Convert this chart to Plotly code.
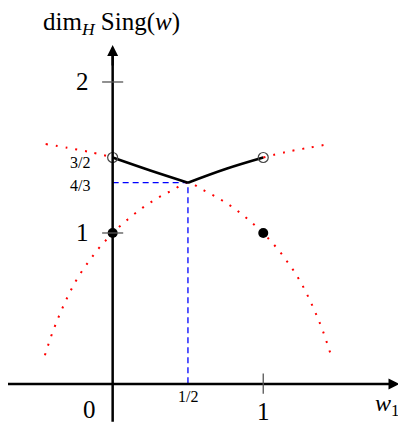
import plotly.graph_objects as go

# ---- data ----
lower_w = [-0.45, -0.40, -0.35, -0.30, -0.25, -0.20, -0.15, -0.10, -0.05, 0.0,
           0.1, 0.2, 0.3, 0.4, 0.5, 0.6, 0.7, 0.8, 0.9, 1.0,
           1.05, 1.10, 1.15, 1.20, 1.25, 1.30, 1.35, 1.40, 1.45]
lower_dim = [0.19, 0.34, 0.465, 0.575, 0.672, 0.753, 0.823, 0.889, 0.946, 1.0,
             1.09, 1.168, 1.232, 1.285, 1.333, 1.285, 1.232, 1.168, 1.09, 1.0,
             0.946, 0.889, 0.823, 0.753, 0.672, 0.575, 0.465, 0.34, 0.19]

upper_left_w = [-0.445, -0.30, -0.15, 0.0]
upper_left_dim = [1.589, 1.564, 1.536, 1.5]
upper_right_w = [1.0, 1.15, 1.30, 1.45]
upper_right_dim = [1.5, 1.536, 1.564, 1.591]

black_left_w = [0.0, 0.25, 0.5]
black_left_dim = [1.5, 1.414, 1.3333]
black_right_w = [0.5, 0.75, 1.0]
black_right_dim = [1.3333, 1.424, 1.5]

filled_w = [0.0, 1.0]
filled_dim = [1.0, 1.0]
open_w = [0.0, 1.0]
open_dim = [1.5, 1.5]

peak_w = 0.5
peak_dim = 4 / 3

y_ticks = [1, 2]
y_tick_labels = ["1", "2"]
x_ticks = [1]
x_tick_labels = ["1"]
small_y_vals = [1.5, 4 / 3]
small_y_labels = ["3/2", "4/3"]

# ---- figure (page body has an 8px margin, so the figure covers px 8..406 / 8..424) ----
W, H = 398, 416
XMIN, XMAX = -0.695, 1.948
YMIN, YMAX = -0.265, 2.490
FONT = "Liberation Serif"

fig = go.Figure()

red_dash = "2px,8px"
for xs, ys in [(lower_w, lower_dim), (upper_left_w, upper_left_dim), (upper_right_w, upper_right_dim)]:
    fig.add_trace(go.Scatter(x=xs, y=ys, mode="lines", line_shape="spline",
                             line=dict(color="red", width=2, dash=red_dash)))

# blue dashed guides
fig.add_trace(go.Scatter(x=[0, peak_w, peak_w], y=[peak_dim, peak_dim, 0], mode="lines",
                         line=dict(color="blue", width=1.3, dash="6px,4px")))

# black curve (two branches meeting in a corner)
for xs, ys in [(black_left_w, black_left_dim), (black_right_w, black_right_dim)]:
    fig.add_trace(go.Scatter(x=xs, y=ys, mode="lines", line_shape="spline",
                             line=dict(color="black", width=2.6)))

# axes
axis_line = dict(color="black", width=2.5)
fig.add_shape(type="line", x0=XMIN, y0=0, x1=1.88, y1=0, line=axis_line)
fig.add_shape(type="line", x0=0, y0=-0.25, x1=0, y1=2.2, line=axis_line)
fig.add_annotation(x=1.905, y=0, ax=1.80, ay=0, axref="x", ayref="y", xref="x", yref="y",
                   showarrow=True, arrowhead=2, arrowsize=1.0, arrowwidth=2.2, arrowcolor="black", text="")
fig.add_annotation(x=0, y=2.245, ax=0, ay=2.1, axref="x", ayref="y", xref="x", yref="y",
                   showarrow=True, arrowhead=2, arrowsize=1.0, arrowwidth=2.2, arrowcolor="black", text="")

# tick marks
for v in y_ticks:
    fig.add_shape(type="line", x0=-0.07, x1=0.07, y0=v, y1=v, line=dict(color="#555", width=1.3))
for v in x_ticks:
    fig.add_shape(type="line", x0=v, x1=v, y0=-0.065, y1=0.07, line=dict(color="#555", width=1.3))

# points
fig.add_trace(go.Scatter(x=filled_w, y=filled_dim, mode="markers",
                         marker=dict(color="black", size=10)))
fig.add_trace(go.Scatter(x=open_w, y=open_dim, mode="markers",
                         marker=dict(color="rgba(0,0,0,0)", size=10, line=dict(color="#444", width=1.2))))

# labels
for v, t in zip(y_ticks, y_tick_labels):
    fig.add_annotation(x=-0.2, y=v, text=t, showarrow=False, font=dict(family=FONT, size=25, color="black"))
for v, t in zip(small_y_vals, small_y_labels):
    fig.add_annotation(x=-0.214, y=v - 0.036 if t == "3/2" else v - 0.022, text=t, showarrow=False,
                       font=dict(family=FONT, size=16, color="black"))
for v, t in zip(x_ticks, x_tick_labels):
    fig.add_annotation(x=v, y=-0.185, text=t, showarrow=False, font=dict(family=FONT, size=25, color="black"))
fig.add_annotation(x=peak_w, y=-0.086, text="1/2", showarrow=False, font=dict(family=FONT, size=16, color="black"))
fig.add_annotation(x=-0.151, y=-0.172, text="0", showarrow=False, font=dict(family=FONT, size=25, color="black"))
fig.add_annotation(x=1.82, y=-0.139, text="<i>w</i><sub>1</sub>", showarrow=False,
                   font=dict(family=FONT, size=24, color="black"))
fig.add_annotation(x=-0.005, y=2.385, text="dim<sub><i>H</i></sub> Sing(<i>w</i>)", showarrow=False,
                   font=dict(family=FONT, size=25, color="black"))

fig.update_layout(
    width=W, height=H, margin=dict(l=0, r=0, t=0, b=0),
    paper_bgcolor="white", plot_bgcolor="white", showlegend=False,
    xaxis=dict(range=[XMIN, XMAX], visible=False, fixedrange=True),
    yaxis=dict(range=[YMIN, YMAX], visible=False, fixedrange=True),
)

fig.write_html("out.html")
